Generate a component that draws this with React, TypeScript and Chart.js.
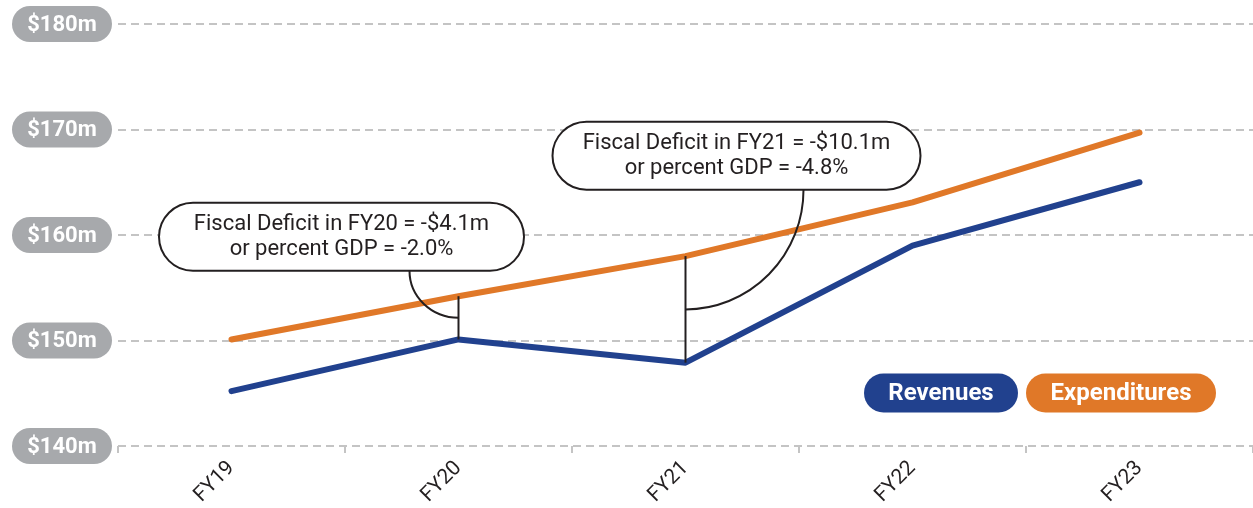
import React, { useEffect, useRef } from "react";
import { Chart, registerables } from "chart.js";

Chart.register(...registerables);

// ---- data ----
const categories = ["FY19", "FY20", "FY21", "FY22", "FY23"];
const revenues = [145.2, 150.1, 147.9, 159.0, 165.0];
const expenditures = [150.1, 154.2, 158.0, 163.1, 169.7];
const yTickValues = [140, 150, 160, 170, 180];
const yTickLabels = ["$140m", "$150m", "$160m", "$170m", "$180m"];
const seriesNames = ["Revenues", "Expenditures"];
const calloutYears = ["FY20", "FY21"];
const calloutLine1 = ["Fiscal Deficit in FY20 = -$4.1m", "Fiscal Deficit in FY21 = -$10.1m"];
const calloutLine2 = ["or percent GDP = -2.0%", "or percent GDP = -4.8%"];

// ---- styles / layout ----
const BLUE = "#21418E";
const ORANGE = "#E07828";
const GRAY_PILL = "#A7A9AC";
const GRID = "#C4C4C4";
const INK = "#231F20";
const FONT = "Roboto, 'Noto Sans', sans-serif";
const legendWidths = [154, 190];
// callout layout: box centre offset from data x, box bottom (in value units), box size, arc start offset
const calloutLayout = [
  { dx: -117, bottomVal: 156.6, w: 365, h: 68, arcDx: -49 },
  { dx: 51, bottomVal: 164.3, w: 368, h: 68, arcDx: 118 },
];

function pill(ctx: CanvasRenderingContext2D, x: number, y: number, w: number, h: number, fill: string, stroke?: string) {
  const r = h / 2;
  ctx.beginPath();
  ctx.moveTo(x + r, y);
  ctx.lineTo(x + w - r, y);
  ctx.arc(x + w - r, y + r, r, -Math.PI / 2, Math.PI / 2);
  ctx.lineTo(x + r, y + h);
  ctx.arc(x + r, y + r, r, Math.PI / 2, (3 * Math.PI) / 2);
  ctx.closePath();
  ctx.fillStyle = fill;
  ctx.fill();
  if (stroke) {
    ctx.strokeStyle = stroke;
    ctx.lineWidth = 2;
    ctx.stroke();
  }
}

const decorPlugin = {
  id: "decor",
  afterDatasetsDraw(chart: any) {
    const { ctx, scales, chartArea } = chart;
    const x = scales.x;
    const y = scales.y;

    // callouts
    calloutYears.forEach((yr, k) => {
      const i = categories.indexOf(yr);
      const L = calloutLayout[k];
      const px = x.getPixelForValue(i);
      const yTop = y.getPixelForValue(expenditures[i]);
      const yBot = y.getPixelForValue(revenues[i]);
      const mid = (yTop + yBot) / 2;
      const boxBottom = y.getPixelForValue(L.bottomVal);
      const boxTop = boxBottom - L.h;
      const boxLeft = px + L.dx - L.w / 2;

      ctx.save();
      ctx.strokeStyle = INK;
      ctx.lineWidth = 2;
      ctx.beginPath();
      ctx.moveTo(px, yTop);
      ctx.lineTo(px, yBot);
      ctx.stroke();

      const rx = Math.abs(L.arcDx);
      const ry = mid - boxBottom;
      ctx.beginPath();
      if (L.arcDx < 0) {
        ctx.ellipse(px, boxBottom, rx, ry, 0, Math.PI, Math.PI / 2, true);
      } else {
        ctx.ellipse(px, boxBottom, rx, ry, 0, 0, Math.PI / 2, false);
      }
      ctx.stroke();

      pill(ctx, boxLeft, boxTop, L.w, L.h, "#ffffff", INK);
      ctx.fillStyle = INK;
      ctx.font = `400 22px ${FONT}`;
      ctx.textAlign = "center";
      ctx.textBaseline = "middle";
      ctx.fillText(calloutLine1[k], boxLeft + L.w / 2, boxTop + L.h / 2 - 12);
      ctx.fillText(calloutLine2[k], boxLeft + L.w / 2, boxTop + L.h / 2 + 13);
      ctx.restore();
    });

    // y-axis pills
    ctx.save();
    yTickValues.forEach((v, k) => {
      const py = y.getPixelForValue(v);
      pill(ctx, 12, py - 18, 100, 36, GRAY_PILL);
      ctx.fillStyle = "#ffffff";
      ctx.font = `700 22px ${FONT}`;
      ctx.textAlign = "center";
      ctx.textBaseline = "middle";
      ctx.fillText(yTickLabels[k], 62, py + 1);
    });
    ctx.restore();

    // legend pills (right aligned)
    ctx.save();
    ctx.font = `700 24px ${FONT}`;
    const colors = [BLUE, ORANGE];
    const gap = 8;
    const cy = chartArea.bottom - 53;
    let right = chartArea.right - 37;
    const lefts: number[] = [];
    for (let k = seriesNames.length - 1; k >= 0; k--) {
      lefts[k] = right - legendWidths[k];
      right = lefts[k] - gap;
    }
    seriesNames.forEach((n, k) => {
      pill(ctx, lefts[k], cy - 19.5, legendWidths[k], 39, colors[k]);
      ctx.fillStyle = "#ffffff";
      ctx.textAlign = "center";
      ctx.textBaseline = "middle";
      ctx.fillText(n, lefts[k] + legendWidths[k] / 2, cy + 1);
    });
    ctx.restore();
  },
};

export default function App() {
  const ref = useRef<HTMLCanvasElement | null>(null);
  useEffect(() => {
    if (!ref.current) return;
    const chart = new Chart(ref.current, {
      type: "line",
      data: {
        labels: categories,
        datasets: [
          {
            label: seriesNames[0],
            data: revenues,
            borderColor: BLUE,
            backgroundColor: BLUE,
            borderWidth: 6,
            borderCapStyle: "round",
            borderJoinStyle: "round",
            pointRadius: 0,
            tension: 0,
          },
          {
            label: seriesNames[1],
            data: expenditures,
            borderColor: ORANGE,
            backgroundColor: ORANGE,
            borderWidth: 6,
            borderCapStyle: "round",
            borderJoinStyle: "round",
            pointRadius: 0,
            tension: 0,
          },
        ],
      },
      options: {
        responsive: false,
        animation: false,
        layout: { padding: { top: 24, right: 0, left: 0, bottom: 0 } },
        plugins: { legend: { display: false }, tooltip: { enabled: false } },
        scales: {
          x: {
            offset: true,
            border: { display: false },
            grid: {
              offset: true,
              drawOnChartArea: false,
              drawTicks: true,
              tickLength: 7,
              color: GRID,
              lineWidth: 2,
            },
            ticks: {
              minRotation: 45,
              maxRotation: 45,
              color: INK,
              padding: 3,
              font: { family: FONT, size: 21, weight: "400" },
            },
            afterFit: (s: any) => {
              s.height = 62;
            },
          },
          y: {
            min: 140,
            max: 180,
            border: { display: false, dash: [8, 5] },
            grid: { color: GRID, lineWidth: 2, drawTicks: false },
            ticks: { display: false, stepSize: 10 },
            afterFit: (s: any) => {
              s.width = 118;
            },
          },
        },
      },
      plugins: [decorPlugin],
    } as any);
    return () => chart.destroy();
  }, []);
  return (
    <div style={{ position: "fixed", left: 0, top: 0, width: 1253, height: 508, background: "#fff" }}>
      <canvas ref={ref} width={1253} height={508} />
    </div>
  );
}
